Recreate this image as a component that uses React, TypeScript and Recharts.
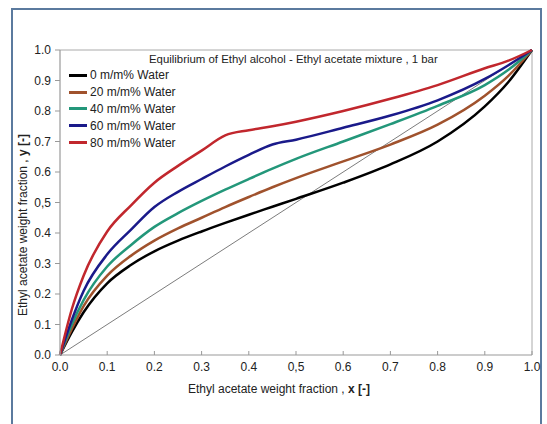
import React from 'react';
import { LineChart, Line, XAxis, YAxis, ReferenceLine } from 'recharts';

const xValues = [0, 0.025, 0.05, 0.1, 0.15, 0.2, 0.25, 0.3, 0.35, 0.4, 0.45, 0.5, 0.6, 0.7, 0.8, 0.9, 0.95, 1.0];
const water0 = [0, 0.075, 0.14, 0.235, 0.295, 0.34, 0.375, 0.405, 0.433, 0.46, 0.486, 0.512, 0.565, 0.625, 0.7, 0.815, 0.895, 1.0];
const water20 = [0, 0.085, 0.16, 0.26, 0.325, 0.375, 0.415, 0.45, 0.485, 0.518, 0.55, 0.58, 0.635, 0.69, 0.755, 0.85, 0.915, 1.0];
const water40 = [0, 0.1, 0.18, 0.29, 0.36, 0.42, 0.465, 0.505, 0.542, 0.577, 0.611, 0.643, 0.7, 0.757, 0.817, 0.885, 0.935, 1.0];
const water60 = [0, 0.115, 0.21, 0.33, 0.41, 0.485, 0.535, 0.577, 0.618, 0.656, 0.69, 0.706, 0.745, 0.785, 0.835, 0.905, 0.95, 1.0];
const water80 = [0, 0.15, 0.26, 0.405, 0.49, 0.565, 0.62, 0.67, 0.72, 0.737, 0.75, 0.765, 0.8, 0.84, 0.885, 0.94, 0.965, 1.0];
const diagonal = [0, 1];

const seriesNames = ['0 m/m% Water', '20 m/m% Water', '40 m/m% Water', '60 m/m% Water', '80 m/m% Water'];
const seriesValues = [water0, water20, water40, water60, water80];
const seriesColors = ['#000000', '#a0522d', '#23977a', '#1a1a8a', '#c1272d'];
const tickValues = [0, 0.1, 0.2, 0.3, 0.4, 0.5, 0.6, 0.7, 0.8, 0.9, 1.0];

const titleText = 'Equilibrium of Ethyl alcohol - Ethyl acetate mixture , 1 bar';
const xTitle = 'Ethyl acetate weight fraction , ';
const xTitleBold = 'x [-]';
const yTitle = 'Ethyl acetate weight fraction , ';
const yTitleBold = 'y [-]';

const FONT = '"Liberation Sans", Arial, sans-serif';

const seriesData = seriesValues.map((vals) => xValues.map((x, i) => ({ x, y: vals[i] })));
const diagData = diagonal.map((v) => ({ x: v, y: v }));

const fmt = (v: number) => (Math.abs(v - 0.5) < 1e-9 ? '0,5' : v.toFixed(1));

const XTick = (props: any) => {
  const { x, y, payload } = props;
  const axisY = y - 7;
  return (
    <g>
      <line x1={x} x2={x} y1={axisY} y2={axisY - 4} stroke="#999" strokeWidth={1} />
      <text x={x} y={y} dy="0.71em" textAnchor="middle" fill="#222" fontSize={12} fontFamily={FONT}>
        {fmt(payload.value)}
      </text>
    </g>
  );
};

export default function App() {
  return (
    <div style={{ position: 'absolute', left: 0, top: 0, width: 547, height: 424, background: '#fff', overflow: 'hidden' }}>
      <div
        style={{
          position: 'absolute',
          left: 11,
          top: 8,
          width: 531,
          height: 430,
          border: '2px solid #5b7a9e',
          boxSizing: 'border-box',
        }}
      />
      <div style={{ position: 'absolute', left: 0, top: 0 }}>
        <LineChart width={547} height={424} margin={{ top: 50, right: 15, bottom: 39, left: 0 }}>
          <XAxis
            dataKey="x"
            type="number"
            domain={[0, 1]}
            ticks={tickValues}
            interval={0}
            allowDuplicatedCategory={false}
            height={30}
            axisLine={{ stroke: '#999', strokeWidth: 1.2 }}
            tickLine={false}
            tickSize={0}
            tickMargin={7}
            tick={<XTick />}
          />
          <YAxis
            dataKey="y"
            type="number"
            domain={[0, 1]}
            ticks={tickValues}
            interval={0}
            width={60}
            axisLine={{ stroke: '#999', strokeWidth: 1.2 }}
            tickLine={{ stroke: '#999' }}
            tickSize={5}
            tickMargin={4}
            tickFormatter={fmt}
            tick={{ fill: '#222', fontSize: 12, fontFamily: FONT }}
          />
          <ReferenceLine y={1} stroke="#aaa" strokeWidth={1} />
          <ReferenceLine x={1} stroke="#aaa" strokeWidth={1} />
          <Line
            data={diagData}
            dataKey="y"
            name="diag"
            type="linear"
            stroke="#444"
            strokeWidth={0.7}
            dot={false}
            legendType="none"
            isAnimationActive={false}
          />
          {seriesData.map((d, i) => (
            <Line
              key={seriesNames[i]}
              data={d}
              dataKey="y"
              name={seriesNames[i]}
              type="monotone"
              stroke={seriesColors[i]}
              strokeWidth={2.5}
              dot={false}
              isAnimationActive={false}
            />
          ))}
        </LineChart>
      </div>
      <div style={{ position: 'absolute', left: 69, top: 67, fontFamily: FONT, fontSize: 12, color: '#222' }}>
        {seriesNames.map((name, i) => (
          <div key={name} style={{ display: 'flex', alignItems: 'center', height: 16.8, whiteSpace: 'nowrap' }}>
            <div style={{ width: 18, height: 3, background: seriesColors[i], marginRight: 3 }} />
            <span>{name}</span>
          </div>
        ))}
      </div>
      <div
        style={{
          position: 'absolute',
          left: 149,
          top: 53,
          fontFamily: FONT,
          fontSize: 11.4,
          color: '#222',
          whiteSpace: 'nowrap',
        }}
      >
        {titleText}
      </div>
      <div
        style={{
          position: 'absolute',
          left: 279,
          top: 389,
          transform: 'translate(-50%, -50%)',
          fontFamily: FONT,
          fontSize: 12,
          color: '#222',
          whiteSpace: 'nowrap',
        }}
      >
        {xTitle}
        <b>{xTitleBold}</b>
      </div>
      <div
        style={{
          position: 'absolute',
          left: 23,
          top: 225,
          transform: 'translate(-50%, -50%) rotate(-90deg)',
          fontFamily: FONT,
          fontSize: 12,
          color: '#222',
          whiteSpace: 'nowrap',
        }}
      >
        {yTitle}
        <b>{yTitleBold}</b>
      </div>
    </div>
  );
}
